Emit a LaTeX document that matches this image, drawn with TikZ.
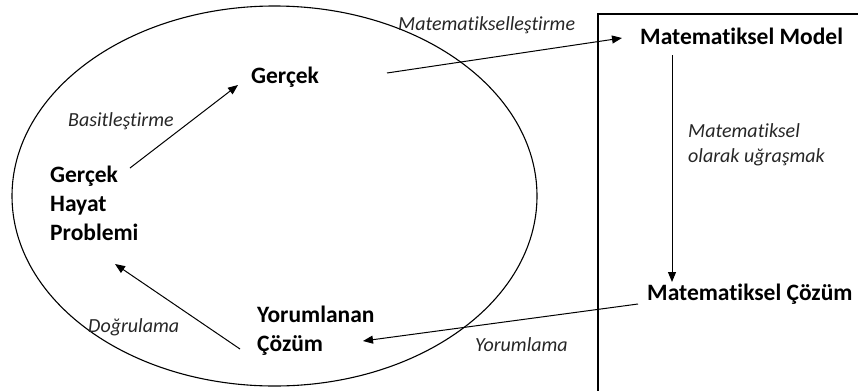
\documentclass[tikz,border=0pt]{standalone}
\usepackage{fontspec}
\setmainfont{Carlito}[Ligatures={NoCommon}]
\usepackage{tikz}
\usetikzlibrary{arrows.meta,calc,positioning}

\begin{document}
\begin{tikzpicture}[x=1pt,y=-1pt,>=Stealth,
    lbl/.style={font=\fontsize{23.5}{29}\selectfont\bfseries,inner sep=0pt,align=left},
    edgelbl/.style={font=\fontsize{20}{25}\selectfont\itshape,inner sep=0pt,align=left,text=black!85},
    arr/.style={line width=1pt,-{Triangle[length=10pt,width=8pt]}}]
  \useasboundingbox (0,0) rectangle (858,391);
  % outer shapes
  \draw[line width=1.1pt] (274.5,196) ellipse [x radius=262.5,y radius=190];
  \draw[line width=1.2pt] (858,14)--(598,14)--(598,391);
  % nodes
  \node[lbl,anchor=north west] (hayat) at (50,166) {Gerçek\\Hayat\\Problemi};
  \node[lbl,anchor=base west] (gercek) at (251,83) {Gerçek};
  \node[lbl,anchor=base west] (model) at (640,44) {Matematiksel Model};
  \node[lbl,anchor=base west] (mcozum) at (647,300) {Matematiksel Çözüm};
  \node[lbl,anchor=north west] (ycozum) at (257,306) {Yorumlanan\\Çözüm};
  % arrows
  \draw[arr] ($(hayat.north west)+(80,2)$)--($(gercek.base west)+(-13,2)$);
  \draw[arr] ($(gercek.base west)+(136,-10)$)--($(model.base west)+(-18,-6)$);
  \draw[arr] ($(model.base west)+(32,11)$)--($(mcozum.base west)+(25,-18)$);
  \draw[arr] ($(mcozum.base west)+(-9,4)$)--($(ycozum.north west)+(106,35)$);
  \draw[arr] ($(ycozum.north west)+(-17,43)$)--($(hayat.north west)+(65,98)$);
  % labels
  \node[edgelbl,anchor=base west] (basit) at (68,126) {Basitleştirme};
  \node[edgelbl,anchor=base west] (matlestir) at (398,30) {Matematikselleştirme};
  \node[edgelbl,anchor=north west] (ugras) at (688,123) {Matematiksel\\olarak uğraşmak};
  \node[edgelbl,anchor=base west] (yorum) at (475,351) {Yorumlama};
  \node[edgelbl,anchor=base west] (dogru) at (88,332) {Doğrulama};
\end{tikzpicture}
\end{document}
